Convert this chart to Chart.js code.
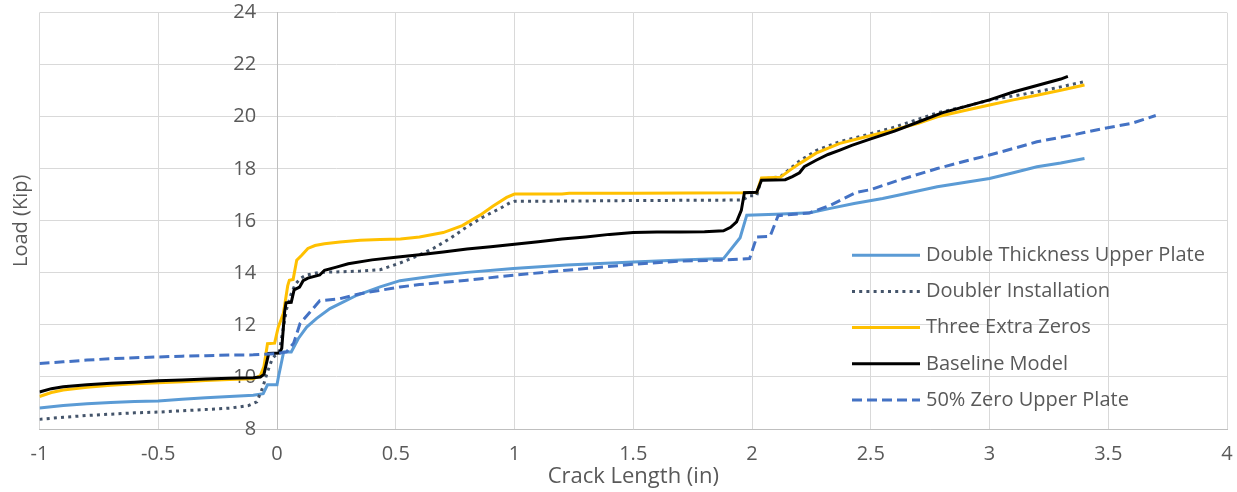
<!DOCTYPE html>
<html>
<head>
<meta charset="utf-8">
<script src="https://cdn.jsdelivr.net/npm/chart.js@4.4.1/dist/chart.umd.min.js"></script>
<style>
  html, body { margin: 0; padding: 0; background: #ffffff; }
  #wrap { width: 1237px; height: 492px; }
</style>
</head>
<body>
<div id="wrap"><canvas id="chart"></canvas></div>
<script>
// crack length (in) / load (kip) for each model run
const thickCrack = [-1, -0.9, -0.8, -0.7, -0.6, -0.5, -0.4, -0.3, -0.2, -0.1, -0.058, -0.04, 0.0, 0.006, 0.028, 0.06, 0.09, 0.125, 0.167, 0.223, 0.265, 0.336, 0.434, 0.518, 0.6, 0.686, 0.8, 0.995, 1.22, 1.5, 1.7, 1.88, 1.95, 1.978, 2.1, 2.244, 2.33, 2.43, 2.55, 2.62, 2.78, 2.9, 3.0, 3.1, 3.2, 3.3, 3.4];
const thickLoad  = [8.81, 8.9, 8.97, 9.02, 9.06, 9.08, 9.14, 9.2, 9.25, 9.3, 9.36, 9.7, 9.7, 10.0, 10.96, 10.96, 11.48, 11.92, 12.25, 12.63, 12.82, 13.14, 13.46, 13.7, 13.8, 13.91, 14.02, 14.17, 14.3, 14.42, 14.5, 14.55, 15.35, 16.22, 16.25, 16.31, 16.48, 16.67, 16.86, 16.99, 17.31, 17.48, 17.63, 17.85, 18.08, 18.22, 18.4];

const doublerCrack = [-1, -0.9, -0.8, -0.7, -0.6, -0.5, -0.4, -0.3, -0.2, -0.12, -0.085, -0.06, -0.04, -0.02, 0.0, 0.01, 0.04, 0.06, 0.076, 0.1, 0.125, 0.18, 0.265, 0.35, 0.434, 0.518, 0.588, 0.658, 0.728, 0.8, 0.868, 0.94, 0.98, 1.0, 1.2, 1.5, 1.96, 1.99, 2.02, 2.04, 2.12, 2.16, 2.2, 2.27, 2.37, 2.48, 2.6, 2.78, 2.9, 3.0, 3.1, 3.2, 3.3, 3.4];
const doublerLoad  = [8.37, 8.45, 8.52, 8.57, 8.62, 8.65, 8.7, 8.75, 8.8, 8.9, 9.04, 9.6, 10.2, 10.7, 10.9, 11.0, 12.6, 13.2, 13.55, 13.8, 13.92, 14.02, 14.04, 14.07, 14.12, 14.38, 14.64, 14.94, 15.32, 15.77, 16.15, 16.48, 16.69, 16.75, 16.76, 16.78, 16.8, 16.96, 16.97, 17.6, 17.7, 18.0, 18.3, 18.7, 19.05, 19.3, 19.6, 20.15, 20.4, 20.64, 20.8, 20.96, 21.15, 21.35];

const zerosCrack = [-1, -0.95, -0.9, -0.8, -0.7, -0.6, -0.5, -0.4, -0.3, -0.2, -0.1, -0.07, -0.055, -0.04, -0.01, 0.005, 0.027, 0.045, 0.052, 0.068, 0.083, 0.104, 0.13, 0.16, 0.2, 0.265, 0.35, 0.434, 0.52, 0.6, 0.7, 0.78, 0.855, 0.91, 0.967, 1.0, 1.2, 1.23, 1.5, 1.96, 2.02, 2.04, 2.12, 2.16, 2.2, 2.27, 2.37, 2.48, 2.6, 2.7, 2.78, 2.9, 3.0, 3.1, 3.2, 3.3, 3.4];
const zerosLoad  = [9.25, 9.4, 9.5, 9.6, 9.68, 9.74, 9.78, 9.82, 9.86, 9.9, 9.93, 10.05, 10.4, 11.28, 11.3, 11.9, 12.45, 13.5, 13.72, 13.75, 14.49, 14.68, 14.94, 15.05, 15.12, 15.19, 15.25, 15.28, 15.3, 15.38, 15.55, 15.82, 16.22, 16.57, 16.9, 17.03, 17.03, 17.06, 17.06, 17.08, 17.1, 17.65, 17.68, 17.95, 18.2, 18.6, 18.98, 19.23, 19.5, 19.75, 20.0, 20.25, 20.45, 20.65, 20.83, 21.02, 21.22];

const baseCrack = [-1, -0.95, -0.9, -0.8, -0.7, -0.6, -0.5, -0.4, -0.3, -0.2, -0.1, -0.07, -0.055, -0.045, -0.035, 0.01, 0.02, 0.032, 0.038, 0.06, 0.072, 0.095, 0.11, 0.13, 0.18, 0.2, 0.25, 0.3, 0.4, 0.5, 0.6, 0.7, 0.8, 0.9, 1.0, 1.1, 1.2, 1.3, 1.4, 1.5, 1.6, 1.7, 1.8, 1.88, 1.91, 1.935, 1.955, 1.968, 2.02, 2.04, 2.14, 2.17, 2.2, 2.22, 2.27, 2.32, 2.37, 2.42, 2.5, 2.6, 2.7, 2.8, 2.9, 3.0, 3.1, 3.2, 3.3, 3.33];
const baseLoad  = [9.42, 9.55, 9.62, 9.7, 9.76, 9.8, 9.85, 9.88, 9.92, 9.95, 9.97, 10.0, 10.1, 10.5, 10.9, 10.92, 11.1, 12.5, 12.85, 12.87, 13.35, 13.45, 13.7, 13.8, 13.92, 14.1, 14.22, 14.35, 14.5, 14.6, 14.7, 14.8, 14.92, 15.0, 15.1, 15.2, 15.3, 15.38, 15.48, 15.55, 15.57, 15.57, 15.58, 15.62, 15.75, 15.96, 16.4, 17.08, 17.1, 17.56, 17.58, 17.7, 17.85, 18.08, 18.33, 18.55, 18.72, 18.9, 19.15, 19.45, 19.8, 20.15, 20.4, 20.65, 20.95, 21.2, 21.45, 21.55];

const halfCrack = [-1, -0.9, -0.8, -0.7, -0.6, -0.5, -0.4, -0.3, -0.2, -0.1, 0.0, 0.04, 0.07, 0.097, 0.146, 0.18, 0.265, 0.35, 0.434, 0.518, 0.6, 0.8, 0.995, 1.22, 1.5, 1.7, 1.865, 1.99, 2.02, 2.076, 2.11, 2.24, 2.33, 2.44, 2.5, 2.62, 2.78, 2.9, 3.0, 3.1, 3.2, 3.35, 3.48, 3.6, 3.7];
const halfLoad  = [10.52, 10.58, 10.65, 10.7, 10.74, 10.77, 10.8, 10.82, 10.84, 10.85, 10.9, 10.96, 11.3, 12.05, 12.57, 12.93, 13.01, 13.2, 13.33, 13.46, 13.55, 13.72, 13.91, 14.1, 14.33, 14.45, 14.49, 14.55, 15.38, 15.4, 16.2, 16.3, 16.6, 17.1, 17.2, 17.57, 18.01, 18.3, 18.53, 18.78, 19.04, 19.3, 19.55, 19.75, 20.05];

const seriesNames = ['Double Thickness Upper Plate', 'Doubler Installation', 'Three Extra Zeros', 'Baseline Model', '50% Zero Upper Plate'];
const xTicks = [-1, -0.5, 0, 0.5, 1, 1.5, 2, 2.5, 3, 3.5, 4];

const textColor = '#595959';
const fontFamily = '"Open Sans", "Noto Sans", sans-serif';

function points(xs, ys) {
  return xs.map((x, i) => ({ x: x, y: ys[i] }));
}

// later series are painted over earlier ones
function lineSet(label, data, color, dash, order) {
  return {
    label: label,
    data: data,
    showLine: true,
    borderColor: color,
    backgroundColor: color,
    borderWidth: 3,
    borderDash: dash,
    pointRadius: 0,
    pointHoverRadius: 0,
    tension: 0,
    fill: false,
    order: order
  };
}

// legend drawn inside the plot, lower right
const insideLegend = {
  id: 'insideLegend',
  afterDraw(chart) {
    const ctx = chart.ctx;
    const area = chart.chartArea;
    const x0 = area.right - 375;
    const y0 = area.top + 242.5;
    ctx.save();
    ctx.font = '20px ' + fontFamily;
    ctx.textBaseline = 'middle';
    ctx.fillStyle = textColor;
    chart.data.datasets.forEach((ds, i) => {
      const y = y0 + i * 36.2;
      ctx.beginPath();
      ctx.strokeStyle = ds.borderColor;
      ctx.lineWidth = ds.borderWidth;
      ctx.setLineDash(ds.borderDash || []);
      ctx.moveTo(x0, y);
      ctx.lineTo(x0 + 68, y);
      ctx.stroke();
      ctx.setLineDash([]);
      ctx.fillText(ds.label, x0 + 74, y);
    });
    ctx.restore();
  }
};

new Chart(document.getElementById('chart'), {
  type: 'scatter',
  data: {
    datasets: [
      lineSet(seriesNames[0], points(thickCrack, thickLoad), '#5B9BD5', [], 4),
      lineSet(seriesNames[1], points(doublerCrack, doublerLoad), '#44546A', [3, 4.2], 3),
      lineSet(seriesNames[2], points(zerosCrack, zerosLoad), '#FFC000', [], 2),
      lineSet(seriesNames[3], points(baseCrack, baseLoad), '#000000', [], 1),
      lineSet(seriesNames[4], points(halfCrack, halfLoad), '#4472C4', [10, 5], 0)
    ]
  },
  options: {
    responsive: true,
    maintainAspectRatio: false,
    animation: false,
    layout: { autoPadding: false, padding: { top: 12.7, right: 10, bottom: 0, left: 0 } },
    plugins: {
      legend: { display: false },
      tooltip: { enabled: false }
    },
    scales: {
      x: {
        type: 'linear',
        min: -1,
        max: 4,
        afterBuildTicks: (scale) => { scale.ticks = xTicks.map(v => ({ value: v })); },
        ticks: {
          color: textColor,
          font: { family: fontFamily, size: 20, lineHeight: 1 },
          padding: 0,
          callback: (v) => String(v)
        },
        // invisible tick marks keep the labels clear of the axis
        grid: { color: '#d9d9d9', drawTicks: true, tickLength: 15, tickColor: 'rgba(0,0,0,0)' },
        border: { color: '#bfbfbf' },
        title: {
          display: true,
          text: 'Crack Length (in)',
          color: textColor,
          font: { family: fontFamily, size: 22, lineHeight: 1 },
          padding: { top: 1.6, bottom: 4.4 }
        }
      },
      y: {
        type: 'linear',
        min: 8,
        max: 24,
        position: { x: 0 },
        ticks: {
          stepSize: 2,
          color: textColor,
          font: { family: fontFamily, size: 20, lineHeight: 1 },
          padding: 0,
          // labels sit right-aligned on the axis line, so pad them with spaces
          callback: (v) => v + '    '
        },
        grid: { color: '#d9d9d9', drawTicks: false },
        border: { color: '#bfbfbf' }
      },
      yTitle: {
        type: 'linear',
        axis: 'y',
        position: 'left',
        min: 8,
        max: 24,
        ticks: { display: false },
        grid: { display: false, drawTicks: false },
        border: { display: false },
        title: {
          display: true,
          text: 'Load (Kip)',
          color: textColor,
          font: { family: fontFamily, size: 20 },
          padding: { top: 9.7, bottom: 5.8 }
        }
      }
    }
  },
  plugins: [insideLegend]
});
</script>
</body>
</html>
